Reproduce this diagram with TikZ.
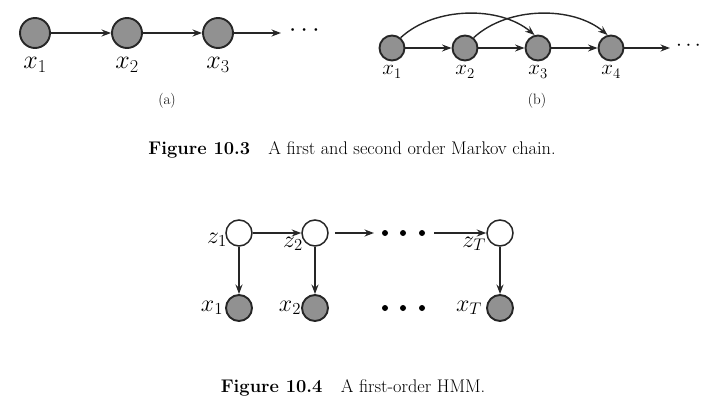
\RequirePackage{fix-cm}
\documentclass[tikz,border=0pt]{standalone}
\usetikzlibrary{arrows.meta}
\begin{document}
\begin{tikzpicture}[x=1pt,y=-1pt,
  obs/.style={circle,draw=black!85,line width=1.9pt,fill=black!43,minimum size=#1,inner sep=0pt},
  hid/.style={circle,draw=black!85,line width=1.5pt,fill=white,minimum size=26pt,inner sep=0pt},
  edge/.style={line width=1.4pt,draw=black!85,-{Stealth[length=9.5pt,width=7pt]}},
  lbl/.style={inner sep=0pt,font=\fontsize{26}{28}\selectfont},
  lbls/.style={inner sep=0pt,font=\fontsize{21}{23}\selectfont},
  lblh/.style={inner sep=0pt,font=\fontsize{24}{26}\selectfont},
  sub/.style={inner sep=0pt,font=\fontsize{15}{17}\selectfont},
  captext/.style={inner sep=0pt,font=\fontsize{18.3}{20}\selectfont},
  bullet/.style={circle,fill=black,minimum size=6pt,inner sep=0pt}
]
\useasboundingbox (0,0) rectangle (708,417);
% (a)
\node[obs=30pt] (a1) at (35,33) {};
\node[obs=30pt] (a2) at (127,33) {};
\node[obs=30pt] (a3) at (218,33) {};
\coordinate (ae) at (281,33);
\node[lbl,anchor=west] (dotsa) at (289,31) {$\cdots$};
\draw[edge] (a1) -- (a2);
\draw[edge] (a2) -- (a3);
\draw[edge] (a3) -- (ae);
\node[lbl] (la1) at (35,65) {$x_1$};
\node[lbl] (la2) at (127,65) {$x_2$};
\node[lbl] (la3) at (218,65) {$x_3$};
\node[sub] (capa) at (167,101) {(a)};
% (b)
\node[obs=25pt] (b1) at (392,48) {};
\node[obs=25pt] (b2) at (465,48) {};
\node[obs=25pt] (b3) at (538,48) {};
\node[obs=25pt] (b4) at (611,48) {};
\coordinate (be) at (670,48);
\node[lbls,anchor=west] (dotsb) at (676,46) {$\cdots$};
\draw[edge] (b1) -- (b2);
\draw[edge] (b2) -- (b3);
\draw[edge] (b3) -- (b4);
\draw[edge] (b4) -- (be);
\draw[edge] (b1.50) .. controls (435,6) and (500,6) .. (b3.105);
\draw[edge] (b2.50) .. controls (508,6) and (573,6) .. (b4.105);
\node[lbls] (lb1) at (392,72) {$x_1$};
\node[lbls] (lb2) at (465,72) {$x_2$};
\node[lbls] (lb3) at (538,72) {$x_3$};
\node[lbls] (lb4) at (611,72) {$x_4$};
\node[sub] (capb) at (537,101) {(b)};
% caption 10.3
\node[captext] (cap3) at (352,150) {\textbf{Figure 10.3}\quad A first and second order Markov chain.};
% HMM
\node[hid] (z1) at (239,233) {};
\node[hid] (z2) at (315,233) {};
\node[hid] (zT) at (500,233) {};
\node[bullet] (d1) at (385,233) {};
\node[bullet] (d2) at (403,233) {};
\node[bullet] (d3) at (422,233) {};
\node[obs=26pt] (x1) at (239,308) {};
\node[obs=26pt] (x2) at (315,308) {};
\node[obs=26pt] (xT) at (500,308) {};
\node[bullet] (e1) at (385,308) {};
\node[bullet] (e2) at (403,308) {};
\node[bullet] (e3) at (422,308) {};
\draw[edge] (z1) -- (z2);
\draw[edge,shorten <=6pt] (z2) -- ([xshift=-11pt]d1.center);
\draw[edge] ([xshift=12pt]d3.center) -- (zT);
\draw[edge] (z1) -- (x1);
\draw[edge] (z2) -- (x2);
\draw[edge] (zT) -- (xT);
\node[lblh] (lz1) at (217,240) {$z_1$};
\node[lblh] (lz2) at (293,244) {$z_2$};
\node[lblh] (lzT) at (474,244) {$z_T$};
\node[lblh] (lx1) at (212,308) {$x_1$};
\node[lblh] (lx2) at (290,308) {$x_2$};
\node[lblh] (lxT) at (469,308) {$x_T$};
\node[captext] (cap4) at (353,388) {\textbf{Figure 10.4}\quad A first-order HMM.};
\end{tikzpicture}
\end{document}
